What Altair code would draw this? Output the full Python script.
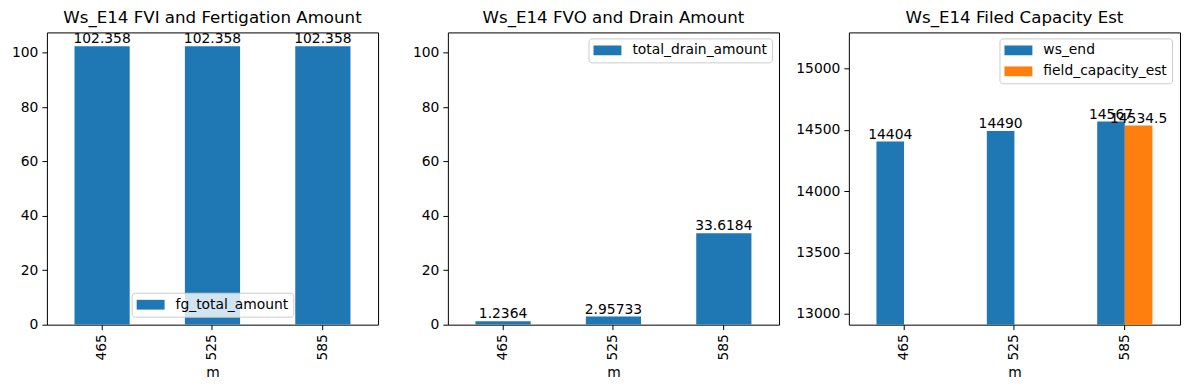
import altair as alt
import pandas as pd

# ---- data ----
m_values = ["465", "525", "585"]
fg_total_amount = [102.358, 102.358, 102.358]
total_drain_amount = [1.2364, 2.95733, 33.6184]
ws_end = [14404, 14490, 14567]
field_capacity_est = [None, None, 14534.5]

titles = [
    "Ws_E14 FVI and Fertigation Amount",
    "Ws_E14 FVO and Drain Amount",
    "Ws_E14 Filed Capacity Est",
]
y_ticks_12 = [0, 20, 40, 60, 80, 100]
y_ticks_3 = [13000, 13500, 14000, 14500, 15000]

BLUE = "#1f77b4"
ORANGE = "#ff7f0e"
FONT = "DejaVu Sans"
FS = 13.9
W, H = 332, 293


def frame(series_name, values):
    rows = []
    for m, v in zip(m_values, values):
        if v is not None:
            rows.append({"m": m, "value": v, "series": series_name})
    return pd.DataFrame(rows)


df1 = frame("fg_total_amount", fg_total_amount)
df2 = frame("total_drain_amount", total_drain_amount)
df3 = pd.concat([frame("ws_end", ws_end), frame("field_capacity_est", field_capacity_est)], ignore_index=True)


def x_enc():
    return alt.X(
        "m:N",
        sort=m_values,
        title="m",
        scale=alt.Scale(paddingInner=0.5, paddingOuter=0.25),
        axis=alt.Axis(labelAngle=-90, labelAlign="right", labelBaseline="middle"),
    )


def y_enc(domain, ticks):
    return alt.Y(
        "value:Q",
        title=None,
        scale=alt.Scale(domain=domain, nice=False, zero=False),
        axis=alt.Axis(values=ticks, format="d"),
    )


def legend(lx, ly):
    return alt.Legend(orient="none", legendX=lx, legendY=ly, title=None)


def panel(df, title, domain, ticks, names, colors, lx, ly, grouped=False):
    color = alt.Color(
        "series:N",
        scale=alt.Scale(domain=names, range=colors),
        legend=legend(lx, ly),
    )
    enc = dict(x=x_enc(), y=y_enc(domain, ticks))
    if grouped:
        enc["xOffset"] = alt.XOffset(
            "series:N", sort=names, scale=alt.Scale(domain=names, paddingInner=0, paddingOuter=0)
        )
    bars = alt.Chart(df).mark_bar(clip=True).encode(color=color, **enc)
    text = alt.Chart(df).mark_text(
        baseline="bottom", fontSize=FS, font=FONT, color="black"
    ).encode(text=alt.Text("value:Q", format=".6~g"), **enc)
    return alt.layer(bars, text).properties(
        width=W, height=H, title=alt.TitleParams(title)
    )


p1 = panel(df1, titles[0], [0, 107.48], y_ticks_12, ["fg_total_amount"], [BLUE], 85, 261)
p2 = panel(df2, titles[1], [0, 107.48], y_ticks_12, ["total_drain_amount"], [BLUE], 141, 6)
p3 = panel(
    df3, titles[2], [12910, 15295], y_ticks_3,
    ["ws_end", "field_capacity_est"], [BLUE, ORANGE], 151, 6, grouped=True,
)

legend_path = "M-2,-0.7L2,-0.7L2,0.7L-2,0.7Z"

chart = (
    alt.hconcat(p1, p2, p3, spacing=70, bounds="flush")
    .resolve_scale(color="independent", y="independent", x="independent")
    .resolve_legend(color="independent")
    .properties(padding={"left": 2, "top": 0, "right": 0, "bottom": 0})
    .configure_view(stroke="black", strokeWidth=1)
    .configure_axis(
        labelFont=FONT, labelFontSize=FS, labelColor="black",
        titleFont=FONT, titleFontSize=FS, titleColor="black", titleFontWeight="normal",
        tickColor="black", tickSize=5, tickWidth=1, labelPadding=4,
        domain=False, grid=False,
    )
    .configure_axisX(titlePadding=5)
    .configure_title(font=FONT, fontSize=16.7, fontWeight="normal", color="black", offset=6, anchor="middle")
    .configure_legend(
        labelFont=FONT, labelFontSize=FS, labelColor="black",
        symbolType=legend_path, symbolSize=196, symbolStrokeWidth=0,
        symbolOffset=7, labelOffset=18, rowPadding=7,
        fillColor="rgba(255,255,255,0.8)", strokeColor="#cccccc",
        cornerRadius=3, padding=5,
    )
)

chart.save("out.html", embed_options={"renderer": "svg", "actions": False})
